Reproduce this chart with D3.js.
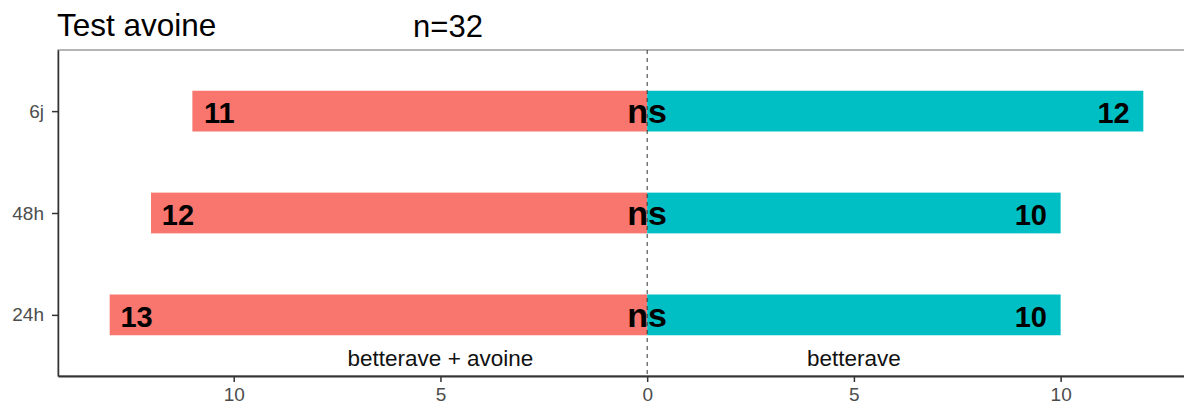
<!DOCTYPE html>
<html>
<head>
<meta charset="utf-8">
<script src="https://cdn.jsdelivr.net/npm/d3@7"></script>
<style>
  body { margin: 0; background: #fff; }
  text { font-family: "Liberation Sans", Arial, sans-serif; }
</style>
</head>
<body>
<svg width="1184" height="411"></svg>
<script>
// data, rows listed from top to bottom
const periods = ["6j", "48h", "24h"]
const avoineCounts = [11, 12, 13]      // betterave + avoine (left)
const betteraveCounts = [12, 10, 10]   // betterave (right)
const signif = ["ns", "ns", "ns"]
const sideLabels = ["betterave + avoine", "betterave"]
const xTicks = [-10, -5, 0, 5, 10]
const total = 32

const svg = d3.select("svg"),
      margin = {top: 50, left: 58},
      width = 1195 - margin.left,
      height = 376 - margin.top,
      g = svg.append("g").attr("transform", "translate(" + margin.left + "," + margin.top + ")")

const rows = periods.map((p, i) => ({period: p, left: -avoineCounts[i], right: betteraveCounts[i], sig: signif[i]}))

// ggplot-like 5% expansion
const lo = d3.min(rows, d => d.left), hi = d3.max(rows, d => d.right)
const pad = (hi - lo) * 0.05
const x = d3.scaleLinear().domain([lo - pad, hi + pad]).range([0, width])
const y = d3.scalePoint().domain(periods).range([0, height]).padding(0.6)
const step = y.step(), barH = step * 0.4

const colors = d3.scaleOrdinal().domain(["left", "right"]).range(["#F8766D", "#00BFC4"])

// panel border (top / right)
g.append("rect").attr("width", width).attr("height", height)
  .attr("fill", "none").attr("stroke", "#6b6b6b").attr("stroke-width", 1)

// bars
g.selectAll(".bar-left").data(rows).enter().append("rect")
  .attr("x", d => x(d.left)).attr("width", d => x(0) - x(d.left))
  .attr("y", d => y(d.period) - barH / 2).attr("height", barH)
  .attr("fill", colors("left"))

g.selectAll(".bar-right").data(rows).enter().append("rect")
  .attr("x", x(0)).attr("width", d => x(d.right) - x(0))
  .attr("y", d => y(d.period) - barH / 2).attr("height", barH)
  .attr("fill", colors("right"))

// zero line
g.append("line").attr("x1", x(0)).attr("x2", x(0)).attr("y1", 0).attr("y2", height)
  .attr("stroke", "#333").attr("stroke-width", 1).attr("stroke-dasharray", "4,4")

// count labels
g.selectAll(".lab-left").data(rows).enter().append("text")
  .text(d => -d.left)
  .attr("x", d => x(d.left + 0.65)).attr("y", d => y(d.period) + 12)
  .attr("text-anchor", "middle").style("font-size", "29px").style("font-weight", "bold")

g.selectAll(".lab-right").data(rows).enter().append("text")
  .text(d => d.right)
  .attr("x", d => x(d.right - 0.72)).attr("y", d => y(d.period) + 12)
  .attr("text-anchor", "middle").style("font-size", "29px").style("font-weight", "bold")

// significance
g.selectAll(".sig").data(rows).enter().append("text")
  .text(d => d.sig)
  .attr("x", x(0)).attr("y", d => y(d.period) + 12)
  .attr("text-anchor", "middle").style("font-size", "34px").style("font-weight", "bold")

// side labels
const lastY = y(periods[periods.length - 1]) + step * 0.5
g.selectAll(".side").data(sideLabels).enter().append("text")
  .text(d => d)
  .attr("x", (d, i) => x(i === 0 ? -5 : 5)).attr("y", lastY)
  .attr("text-anchor", "middle").style("font-size", "22.5px").style("fill", "#111")

// axes
const xAxis = g.append("g").attr("class", "axis axis--x")
  .attr("transform", "translate(0," + height + ")")
  .call(d3.axisBottom(x).tickValues(xTicks).tickFormat(d => Math.abs(d)).tickSize(6).tickSizeOuter(0).tickPadding(6))
  .attr("font-size", 19)
xAxis.select(".domain").attr("stroke", "#333").attr("stroke-width", 2)
xAxis.selectAll(".tick line").attr("stroke", "#333").attr("stroke-width", 1.5)
xAxis.selectAll(".tick text").attr("fill", "#4D4D4D")

const yAxis = g.append("g").attr("class", "axis axis--y")
  .call(d3.axisLeft(y).tickSize(6).tickSizeOuter(0).tickPadding(8))
  .attr("font-size", 19)
yAxis.select(".domain").attr("stroke", "#333").attr("stroke-width", 1.5)
yAxis.selectAll(".tick line").attr("stroke", "#333").attr("stroke-width", 1.5)
yAxis.selectAll(".tick text").attr("fill", "#4D4D4D")

// titles
svg.append("text").text("Test avoine").attr("x", 57).attr("y", 36)
  .style("font-size", "31.5px").style("fill", "#000")
svg.append("text").text("n=" + total).attr("x", 448).attr("y", 37)
  .attr("text-anchor", "middle").style("font-size", "31px").style("fill", "#000")
</script>
</body>
</html>
